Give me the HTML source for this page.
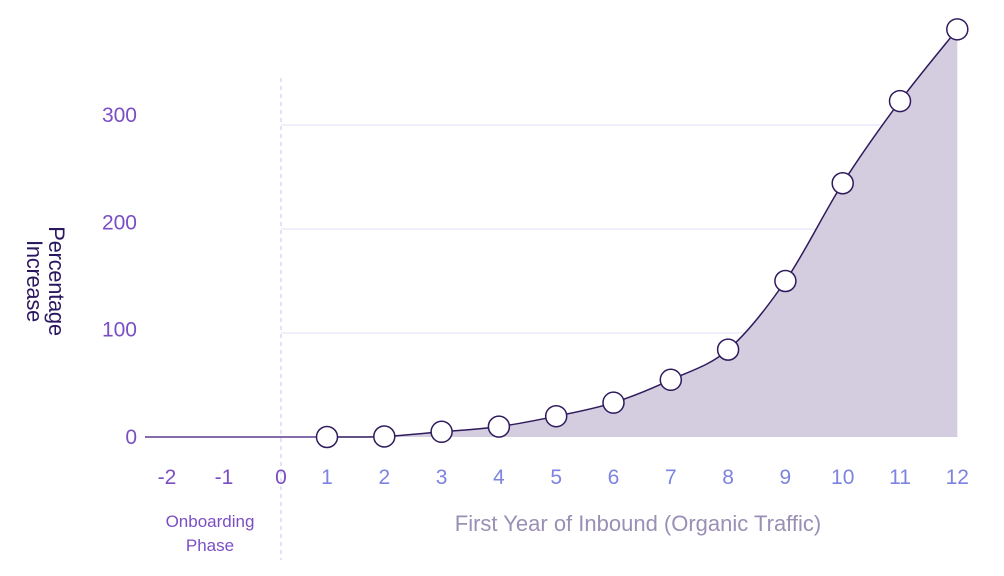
<!DOCTYPE html>
<html><head><meta charset="utf-8"><style>
body{margin:0;background:#fff;width:1004px;height:576px;overflow:hidden}
svg{display:block;font-family:"Liberation Sans",sans-serif}
</style></head><body>
<svg id="chart" width="1004" height="576" viewBox="0 0 1004 576">
<text transform="translate(44,281) rotate(90)" text-anchor="middle" font-size="22" fill="#2a1760" letter-spacing="-0.3"><tspan x="0" dy="-5">Percentage</tspan><tspan x="0" dy="22">Increase</tspan></text>
<text x="210" y="527" text-anchor="middle" font-size="17" fill="#7a4fc4">Onboarding</text>
<text x="210" y="551" text-anchor="middle" font-size="17" fill="#7a4fc4">Phase</text>
<text x="638" y="531" text-anchor="middle" font-size="22" fill="#9a8fb5">First Year of Inbound (Organic Traffic)</text>
<line x1="281" y1="78" x2="281" y2="560" stroke="#c9c6f0" stroke-width="1" stroke-dasharray="4,4"/>
<g id="grid"></g><g id="marks"></g>
</svg>
<script>
const months=[1,2,3,4,5,6,7,8,9,10,11,12];
const values=[0,0.5,5,10,20,33,55,84,150,244,323,392];
const xTicks=[-2,-1,0,1,2,3,4,5,6,7,8,9,10,11,12];
const yTicks=[0,100,200,300];
const NS="http://www.w3.org/2000/svg";
function x(v){return v>=1?327+(v-1)*57.3:281+v*57;}
function y(v){return 437-v*1.04;}
function mk(t,a,p){const e=document.createElementNS(NS,t);for(const k in a)e.setAttribute(k,a[k]);p.appendChild(e);return e;}
const grid=document.getElementById('grid'),marks=document.getElementById('marks');
yTicks.forEach(v=>{
  if(v>0){const l=mk('line',{x1:281,x2:957,y1:y(v),y2:y(v),stroke:'#e2e0f6','stroke-width':1},grid);
  
  }
  const t=mk('text',{x:137,y:y(v)+7-v*0.033,'text-anchor':'end','font-size':21,fill:'#7a4fc4'},grid);
  t.textContent=v;
  
  
});
xTicks.forEach(v=>{
  const t=mk('text',{x:x(v),y:484,'text-anchor':'middle','font-size':21,fill:v<=0?'#7a4fc4':'#7d84e0'},grid);
  t.textContent=v;
  
  
});
const pts=months.map((m,i)=>[x(m),y(values[i])]);
function curve(p){let d='M'+p[0][0]+','+p[0][1];for(let i=0;i<p.length-1;i++){const p0=p[i-1]||p[i],p1=p[i],p2=p[i+1],p3=p[i+2]||p2;
d+=` C${p1[0]+(p2[0]-p0[0])/6},${p1[1]+(p2[1]-p0[1])/6} ${p2[0]-(p3[0]-p1[0])/6},${p2[1]-(p3[1]-p1[1])/6} ${p2[0]},${p2[1]}`;}return d;}
const c=curve(pts);
const area=mk('path',{d:c+` L${pts[pts.length-1][0]},${y(0)} L${pts[0][0]},${y(0)} Z`,fill:'#d4cde0'},marks);


const base=mk('line',{x1:145,x2:x(1),y1:y(0),y2:y(0),stroke:'#5a3d8f','stroke-width':1.5},marks);


const line=mk('path',{d:c,fill:'none',stroke:'#2e1a5c','stroke-width':1.5},marks);


pts.forEach((p,i)=>{
  const ci=mk('circle',{cx:p[0],cy:p[1],r:10.5,fill:'#fff',stroke:'#2e1a5c','stroke-width':1.5},marks);
  
  
});
</script>
</body></html>
